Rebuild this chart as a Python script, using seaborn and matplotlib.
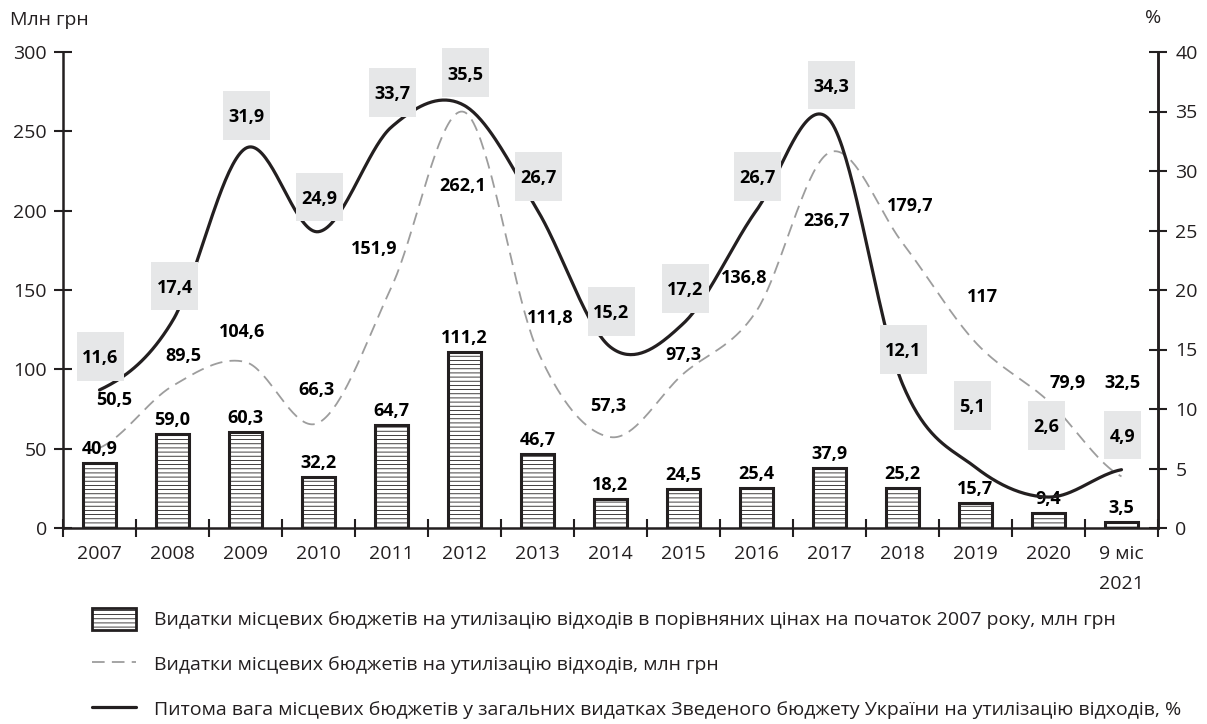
import numpy as np
import matplotlib
matplotlib.use("Agg")
import matplotlib.pyplot as plt
from matplotlib.path import Path
from matplotlib.patches import Patch
from matplotlib.lines import Line2D
import seaborn as sns

# ---------------- data ----------------
categories = ["2007", "2008", "2009", "2010", "2011", "2012", "2013", "2014",
              "2015", "2016", "2017", "2018", "2019", "2020", "9 міс\n2021"]
bars_comparable = [40.9, 59.0, 60.3, 32.2, 64.7, 111.2, 46.7, 18.2,
                   24.5, 25.4, 37.9, 25.2, 15.7, 9.4, 3.5]
spend_nominal = [50.5, 89.5, 104.6, 66.3, 151.9, 262.1, 111.8, 57.3,
                 97.3, 136.8, 236.7, 179.7, 117, 79.9, 32.5]
share_pct = [11.6, 17.4, 31.9, 24.9, 33.7, 35.5, 26.7, 15.2,
             17.2, 26.7, 34.3, 12.1, 5.1, 2.6, 4.9]
left_ticks = [0, 50, 100, 150, 200, 250, 300]
right_ticks = [0, 5, 10, 15, 20, 25, 30, 35, 40]
legend_labels = [
    "Видатки місцевих бюджетів на утилізацію відходів в порівняних цінах на початок 2007 року, млн грн",
    "Видатки місцевих бюджетів на утилізацію відходів, млн грн",
    "Питома вага місцевих бюджетів у загальних видатках Зведеного бюджету України на утилізацію відходів, %",
]

# label offsets (pixels) relative to data points
nominal_offsets = [(15, 48), (11, 30), (-3, 30), (-2, 33), (-17, 38), (-2, -74), (13, 33),
                   (-2, 31), (0, 19), (-12, 33), (-3, -69), (8, 37), (7, 45), (19, 18), (1, 93)]
pct_offsets = [(1, 32), (2, 33), (1, 31), (1, 33), (1, 33), (1, 31), (1, 32), (1, 34),
               (2, 33), (1, 32), (2, 33), (1, 33), (-3, 60), (-2, 70), (1, 33)]

DARK = "#231f20"
GRAY = "#9d9d9d"
BOX = "#e6e7e8"

sns.set_style("white")
plt.rcParams["font.family"] = ["Open Sans", "DejaVu Sans"]
plt.rcParams["hatch.linewidth"] = 0.6
plt.rcParams["hatch.color"] = "#3a3a3a"
FS = 14
FSB = 13


def smooth(vals, n=40):
    y = np.asarray(vals, float)
    P = np.concatenate([[y[0]], y, [y[-1]]])
    xs, ys = [], []
    t = np.linspace(0, 1, n, endpoint=False)
    for i in range(len(y) - 1):
        p0, p1, p2, p3 = P[i], P[i + 1], P[i + 2], P[i + 3]
        c1 = p1 + (p2 - p0) / 6
        c2 = p2 - (p3 - p1) / 6
        yy = (1 - t) ** 3 * p1 + 3 * (1 - t) ** 2 * t * c1 + 3 * (1 - t) * t ** 2 * c2 + t ** 3 * p2
        xs.append(i + t)
        ys.append(yy)
    xs.append([len(y) - 1])
    ys.append([y[-1]])
    return np.concatenate(xs), np.concatenate(ys)


def tallbox(x0, y0, width, height, mutation_size):
    px = 0.30 * mutation_size
    py_top = 0.95 * mutation_size
    py_bot = 0.75 * mutation_size
    verts = [(x0 - px, y0 - py_bot), (x0 + width + px, y0 - py_bot),
             (x0 + width + px, y0 + height + py_top), (x0 - px, y0 + height + py_top),
             (x0 - px, y0 - py_bot)]
    return Path(verts, closed=True)


fig = plt.figure(figsize=(12.07, 7.24), dpi=100)
ax = fig.add_axes([63 / 1207, 1 - 528 / 724, (1158 - 63) / 1207, (528 - 52) / 724])

sns.barplot(x=categories, y=bars_comparable, ax=ax, color="white", saturation=1,
            width=0.45, edgecolor=DARK, linewidth=2.2, hatch="----", zorder=2)

xs, ys = smooth(spend_nominal)
sns.lineplot(x=xs, y=ys, ax=ax, color=GRAY, linewidth=1.3, linestyle=(0, (7, 4)),
             sort=False, estimator=None, zorder=3)

ax2 = ax.twinx()
xs2, ys2 = smooth(share_pct)
sns.lineplot(x=xs2, y=ys2, ax=ax2, color=DARK, linewidth=2.3,
             sort=False, estimator=None, zorder=3)

n = len(categories)
for a in (ax, ax2):
    a.set_xlim(-0.5, n - 0.5)
    for s in a.spines.values():
        s.set_color(DARK)
        s.set_linewidth(1.8)
    a.spines["top"].set_visible(False)
    a.set_xlabel("")
    a.set_ylabel("")
    a.grid(False)

ax.set_ylim(0, 300)
ax2.set_ylim(0, 40)
ax.set_yticks(left_ticks)
ax2.set_yticks(right_ticks)
ax.tick_params(axis="y", direction="inout", length=13, width=1.5, color=DARK,
               labelsize=FS, labelcolor=DARK, pad=5, left=True)
ax2.tick_params(axis="y", direction="inout", length=13, width=1.5, color=DARK,
                labelsize=FS, labelcolor=DARK, pad=6, right=True)
ax.set_xticks(range(n))
ax.set_xticklabels(categories, linespacing=1.85, va="top")
ax.set_xticks(np.arange(-0.5, n, 1.0), minor=True)
ax.tick_params(axis="x", which="major", length=0, labelsize=FS, labelcolor=DARK, pad=12)
ax.tick_params(axis="x", which="minor", direction="inout", length=13, width=1.5,
               color=DARK, bottom=True)
ax2.spines["left"].set_visible(False)
ax2.spines["bottom"].set_visible(False)

# bar labels
for i, v in enumerate(bars_comparable):
    ax.annotate(f"{v:.1f}".replace(".", ","), (i, v), xytext=(0, 14),
                textcoords="offset pixels", ha="center", va="center",
                fontsize=FSB, fontweight="bold", color="black", zorder=6)

# nominal labels
for i, v in enumerate(spend_nominal):
    s = f"{v:g}".replace(".", ",")
    dx, dy = nominal_offsets[i]
    ax.annotate(s, (i, v), xytext=(dx, dy), textcoords="offset pixels",
                ha="center", va="center", fontsize=FSB, fontweight="bold",
                color="black", zorder=6)

# percent labels in boxes
for i, v in enumerate(share_pct):
    s = f"{v:.1f}".replace(".", ",")
    dx, dy = pct_offsets[i]
    ax2.annotate(s, (i, v), xytext=(dx, dy), textcoords="offset pixels",
                 ha="center", va="center", fontsize=FSB, fontweight="bold",
                 color="black", zorder=7,
                 bbox=dict(boxstyle=tallbox, facecolor=BOX, edgecolor="none"))

fig.text(10 / 1207, 1 - 20 / 724, "Млн грн", fontsize=FS, color=DARK, ha="left", va="center")
fig.text(1153 / 1207, 1 - 18 / 724, "%", fontsize=FS, color=DARK, ha="center", va="center")

handles = [
    Patch(facecolor="white", edgecolor=DARK, hatch="----", linewidth=2),
    Line2D([0], [0], color=GRAY, linewidth=1.3, linestyle=(0, (7, 4))),
    Line2D([0], [0], color=DARK, linewidth=2.3),
]
fig.legend(handles, legend_labels, loc="upper left",
           bbox_to_anchor=(92 / 1207, 1 - 608 / 724), frameon=False,
           fontsize=FS, handlelength=2.27, handleheight=1.34, handletextpad=0.93,
           labelspacing=1.2, borderpad=0, borderaxespad=0, labelcolor=DARK)

fig.savefig("out.png", dpi=100)
